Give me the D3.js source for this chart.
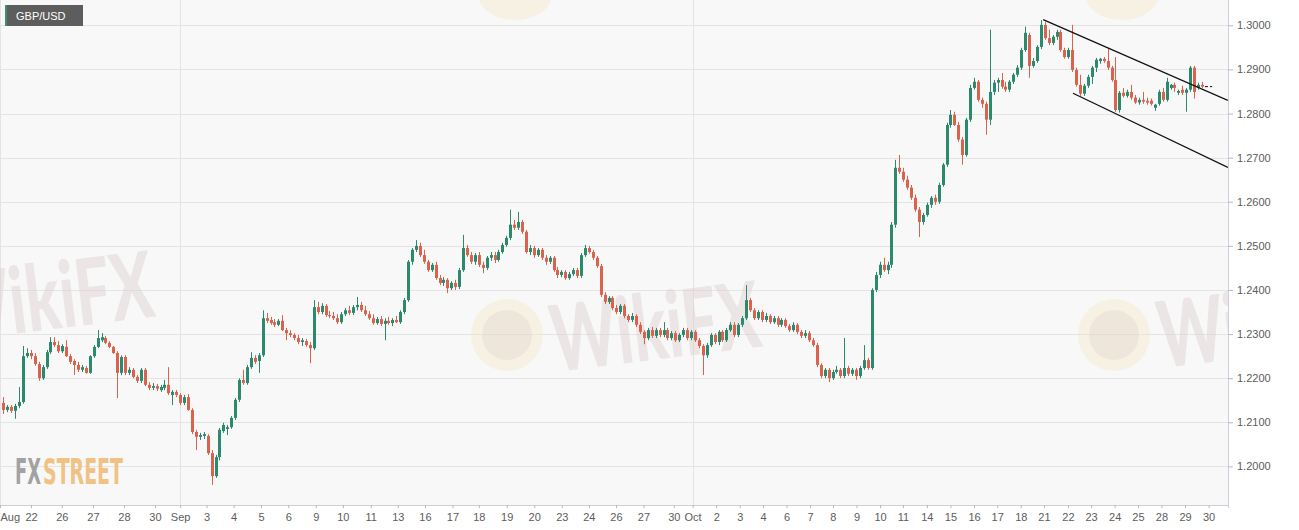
<!DOCTYPE html>
<html>
<head>
<meta charset="utf-8">
<style>
  body { margin: 0; background: #ffffff; }
  svg { display: block; font-family: "Liberation Sans", Arial, sans-serif; }
  .tick text { fill: #5c5c5c; font-size: 11px; }
  .tick line { stroke: #b8b8c4; }
</style>
</head>
<body>
<svg id="chart" width="1299" height="530"></svg>
<script src="https://cdnjs.cloudflare.com/ajax/libs/d3/7.8.5/d3.min.js"></script>
<script>
// GBP/USD 4h candles, Aug 21 - Oct 30
const symbol = "GBP/USD";
const priceTicks = [1.20, 1.21, 1.22, 1.23, 1.24, 1.25, 1.26, 1.27, 1.28, 1.29, 1.30];

// x tick labels and where they sit, in candle units
const dayLabels = ["Aug","22","26","27","28","30","Sep","3","4","5","6","9","10","11","13","16","17","18","19","20","23","24","26","27","30","Oct","2","3","4","6","7","8","9","10","11","14","15","16","17","18","21","22","23","24","25","28","29","30"];
const dayTickIdx = [-0.84,7.05,14.9,22.8,30.7,38.6,45.0,51.7,58.6,65.6,72.5,79.5,86.4,93.5,100.4,107.3,114.3,121.0,128.1,135.1,142.1,149.0,155.9,162.9,170.6,175.4,181.4,187.4,193.3,199.3,205.3,211.1,217.1,223.1,228.9,235.0,241.0,247.0,252.9,258.9,264.8,270.9,276.8,282.8,288.7,294.7,300.7,306.7];
const monthLabels = ["Aug","Sep","Oct"];

// [open, high, low, close]
const augCandles = [
[1.2144,1.2157,1.2119,1.2128],[1.2128,1.2139,1.2123,1.2135],[1.2135,1.2139,1.2121,1.2126],[1.2126,1.2142,1.2108,1.2137],
[1.2137,1.2180,1.2132,1.2146],[1.2146,1.2273,1.2142,1.2250],[1.2250,1.2268,1.2246,1.2257],[1.2257,1.2264,1.2243,1.2250],
[1.2250,1.2257,1.2228,1.2232],[1.2232,1.2237,1.2194,1.2200],[1.2200,1.2230,1.2196,1.2225],[1.2225,1.2264,1.2221,1.2259],
[1.2259,1.2293,1.2255,1.2282],[1.2282,1.2293,1.2271,1.2275],[1.2275,1.2284,1.2257,1.2261],[1.2261,1.2277,1.2257,1.2273],
[1.2271,1.2286,1.2248,1.2250],[1.2250,1.2255,1.2232,1.2237],[1.2239,1.2243,1.2207,1.2230],[1.2230,1.2237,1.2214,1.2219],
[1.2219,1.2230,1.2214,1.2225],[1.2223,1.2228,1.2210,1.2212],[1.2212,1.2252,1.2210,1.2250],[1.2250,1.2275,1.2246,1.2271],
[1.2271,1.2309,1.2268,1.2291],[1.2286,1.2302,1.2282,1.2293],[1.2291,1.2296,1.2277,1.2280],[1.2280,1.2284,1.2268,1.2271],
[1.2271,1.2273,1.2255,1.2257],[1.2257,1.2261,1.2155,1.2212],[1.2212,1.2252,1.2207,1.2248],[1.2248,1.2252,1.2207,1.2212],
[1.2212,1.2225,1.2207,1.2219],[1.2219,1.2223,1.2200,1.2203],[1.2203,1.2207,1.2189,1.2194],[1.2194,1.2223,1.2189,1.2219],
[1.2219,1.2223,1.2182,1.2185],[1.2185,1.2191,1.2173,1.2178],[1.2178,1.2189,1.2173,1.2182],[1.2182,1.2187,1.2171,1.2176],
[1.2173,1.2185,1.2169,1.2180],[1.2178,1.2196,1.2173,1.2185],[1.2185,1.2225,1.2162,1.2166],[1.2162,1.2173,1.2139,1.2169],
[1.2169,1.2173,1.2157,1.2162]
];
const sepCandles = [
[1.2162,1.2166,1.2139,1.2144],[1.2144,1.2162,1.2139,1.2157],[1.2157,1.2164,1.2126,1.2128],[1.2128,1.2132,1.2073,1.2078],
[1.2078,1.2083,1.2037,1.2067],[1.2067,1.2076,1.2060,1.2071],[1.2069,1.2078,1.2062,1.2073],[1.2069,1.2073,1.2026,1.2030],
[1.2030,1.2037,1.1958,1.1978],[1.1978,1.2026,1.1974,1.2021],[1.2021,1.2087,1.2014,1.2083],[1.2080,1.2099,1.2076,1.2094],
[1.2085,1.2094,1.2071,1.2089],[1.2089,1.2114,1.2085,1.2110],[1.2110,1.2155,1.2105,1.2151],[1.2151,1.2200,1.2146,1.2196],
[1.2196,1.2219,1.2185,1.2189],[1.2189,1.2230,1.2185,1.2225],[1.2225,1.2259,1.2221,1.2246],[1.2246,1.2252,1.2232,1.2237],
[1.2239,1.2257,1.2212,1.2252],[1.2252,1.2354,1.2248,1.2336],[1.2336,1.2348,1.2325,1.2330],[1.2332,1.2339,1.2321,1.2325],
[1.2327,1.2334,1.2316,1.2321],[1.2321,1.2334,1.2318,1.2330],[1.2330,1.2343,1.2307,1.2309],[1.2309,1.2314,1.2286,1.2302],
[1.2302,1.2309,1.2293,1.2298],[1.2298,1.2302,1.2286,1.2291],[1.2291,1.2298,1.2277,1.2282],[1.2282,1.2291,1.2273,1.2286],
[1.2284,1.2289,1.2271,1.2275],[1.2275,1.2282,1.2234,1.2268],[1.2268,1.2377,1.2264,1.2361],[1.2361,1.2373,1.2345,1.2350],
[1.2350,1.2370,1.2345,1.2364],[1.2364,1.2368,1.2339,1.2343],[1.2343,1.2352,1.2336,1.2341],[1.2341,1.2350,1.2332,1.2336],
[1.2336,1.2345,1.2323,1.2327],[1.2327,1.2350,1.2323,1.2345],[1.2345,1.2359,1.2341,1.2354],[1.2354,1.2364,1.2343,1.2348],
[1.2348,1.2366,1.2343,1.2361],[1.2361,1.2384,1.2354,1.2366],[1.2366,1.2373,1.2350,1.2354],[1.2354,1.2364,1.2341,1.2345],
[1.2345,1.2352,1.2332,1.2336],[1.2336,1.2345,1.2321,1.2325],[1.2325,1.2339,1.2321,1.2334],[1.2334,1.2341,1.2318,1.2323],
[1.2323,1.2336,1.2286,1.2330],[1.2330,1.2339,1.2321,1.2325],[1.2325,1.2336,1.2318,1.2332],[1.2332,1.2341,1.2325,1.2327],
[1.2327,1.2354,1.2323,1.2350],[1.2350,1.2382,1.2345,1.2377],[1.2377,1.2468,1.2373,1.2464],[1.2464,1.2495,1.2457,1.2491],
[1.2491,1.2513,1.2486,1.2500],[1.2500,1.2507,1.2475,1.2479],[1.2479,1.2491,1.2459,1.2464],[1.2464,1.2468,1.2441,1.2445],
[1.2445,1.2461,1.2441,1.2457],[1.2457,1.2464,1.2423,1.2427],[1.2427,1.2434,1.2411,1.2416],[1.2416,1.2429,1.2409,1.2423],
[1.2423,1.2427,1.2393,1.2404],[1.2404,1.2420,1.2400,1.2416],[1.2416,1.2423,1.2400,1.2407],[1.2407,1.2450,1.2402,1.2445],
[1.2445,1.2525,1.2441,1.2495],[1.2495,1.2502,1.2475,1.2479],[1.2479,1.2486,1.2459,1.2464],[1.2464,1.2484,1.2457,1.2479],
[1.2479,1.2486,1.2452,1.2457],[1.2457,1.2464,1.2438,1.2450],[1.2450,1.2477,1.2445,1.2473],[1.2473,1.2486,1.2466,1.2479],
[1.2479,1.2486,1.2461,1.2468],[1.2468,1.2491,1.2464,1.2486],[1.2486,1.2507,1.2482,1.2502],[1.2502,1.2523,1.2498,1.2518],
[1.2518,1.2582,1.2513,1.2548],[1.2548,1.2559,1.2536,1.2541],[1.2541,1.2577,1.2536,1.2554],[1.2554,1.2559,1.2527,1.2532],
[1.2532,1.2536,1.2482,1.2486],[1.2486,1.2502,1.2479,1.2495],[1.2495,1.2500,1.2473,1.2479],[1.2479,1.2495,1.2475,1.2491],
[1.2491,1.2495,1.2468,1.2473],[1.2473,1.2479,1.2457,1.2464],[1.2464,1.2477,1.2459,1.2473],[1.2473,1.2477,1.2441,1.2445],
[1.2445,1.2452,1.2427,1.2434],[1.2434,1.2445,1.2429,1.2441],[1.2441,1.2445,1.2423,1.2427],[1.2427,1.2441,1.2423,1.2436],
[1.2436,1.2450,1.2432,1.2445],[1.2445,1.2450,1.2427,1.2432],[1.2432,1.2484,1.2427,1.2479],[1.2479,1.2502,1.2475,1.2495],
[1.2495,1.2500,1.2482,1.2486],[1.2486,1.2491,1.2468,1.2473],[1.2473,1.2477,1.2450,1.2454],[1.2454,1.2459,1.2384,1.2389],
[1.2389,1.2395,1.2368,1.2373],[1.2373,1.2386,1.2368,1.2382],[1.2382,1.2386,1.2354,1.2359],[1.2359,1.2366,1.2345,1.2350],
[1.2350,1.2368,1.2345,1.2364],[1.2364,1.2368,1.2336,1.2341],[1.2341,1.2345,1.2327,1.2332],[1.2332,1.2348,1.2327,1.2341],
[1.2341,1.2345,1.2316,1.2321],[1.2321,1.2327,1.2300,1.2305],[1.2305,1.2309,1.2277,1.2291],[1.2291,1.2314,1.2286,1.2309],
[1.2309,1.2316,1.2291,1.2296],[1.2296,1.2314,1.2291,1.2309],[1.2309,1.2314,1.2293,1.2298],[1.2298,1.2327,1.2293,1.2309],
[1.2309,1.2314,1.2286,1.2291],[1.2291,1.2307,1.2286,1.2302],[1.2302,1.2307,1.2282,1.2286],[1.2286,1.2302,1.2282,1.2298],
[1.2298,1.2314,1.2293,1.2309],[1.2309,1.2314,1.2286,1.2291],[1.2291,1.2309,1.2286,1.2305]
];
const octCandles = [
[1.2305,1.2309,1.2282,1.2286],[1.2286,1.2291,1.2268,1.2273],[1.2273,1.2277,1.2207,1.2252],[1.2252,1.2280,1.2246,1.2275],
[1.2275,1.2302,1.2271,1.2298],[1.2298,1.2302,1.2277,1.2282],[1.2282,1.2309,1.2275,1.2305],[1.2305,1.2309,1.2282,1.2286],
[1.2286,1.2314,1.2282,1.2309],[1.2309,1.2327,1.2305,1.2321],[1.2321,1.2327,1.2293,1.2298],[1.2298,1.2325,1.2293,1.2321],
[1.2321,1.2341,1.2316,1.2336],[1.2336,1.2411,1.2332,1.2377],[1.2377,1.2382,1.2350,1.2354],[1.2354,1.2359,1.2332,1.2336],
[1.2336,1.2354,1.2332,1.2350],[1.2350,1.2354,1.2327,1.2332],[1.2332,1.2348,1.2327,1.2341],[1.2341,1.2345,1.2323,1.2327],
[1.2327,1.2341,1.2323,1.2336],[1.2336,1.2341,1.2316,1.2321],[1.2321,1.2336,1.2316,1.2332],[1.2332,1.2336,1.2314,1.2318],
[1.2318,1.2323,1.2305,1.2309],[1.2309,1.2327,1.2305,1.2321],[1.2321,1.2325,1.2300,1.2305],[1.2305,1.2309,1.2291,1.2296],
[1.2296,1.2309,1.2291,1.2302],[1.2302,1.2307,1.2282,1.2286],[1.2286,1.2291,1.2271,1.2275],[1.2275,1.2280,1.2225,1.2230],
[1.2230,1.2234,1.2200,1.2205],[1.2205,1.2223,1.2200,1.2219],[1.2219,1.2223,1.2191,1.2200],[1.2200,1.2219,1.2196,1.2214],
[1.2214,1.2228,1.2210,1.2219],[1.2219,1.2223,1.2200,1.2205],[1.2205,1.2291,1.2200,1.2223],[1.2223,1.2228,1.2205,1.2210],
[1.2210,1.2223,1.2205,1.2219],[1.2219,1.2223,1.2196,1.2205],[1.2205,1.2228,1.2200,1.2223],[1.2223,1.2275,1.2219,1.2241],
[1.2241,1.2246,1.2219,1.2223],[1.2223,1.2404,1.2219,1.2400],[1.2400,1.2441,1.2395,1.2434],[1.2434,1.2464,1.2427,1.2457],
[1.2457,1.2473,1.2441,1.2445],[1.2445,1.2464,1.2436,1.2457],[1.2457,1.2554,1.2450,1.2548],[1.2548,1.2695,1.2541,1.2677],
[1.2677,1.2706,1.2663,1.2668],[1.2668,1.2677,1.2645,1.2650],[1.2650,1.2659,1.2627,1.2632],[1.2632,1.2638,1.2604,1.2609],
[1.2609,1.2616,1.2577,1.2582],[1.2582,1.2588,1.2520,1.2554],[1.2554,1.2575,1.2548,1.2570],[1.2570,1.2598,1.2566,1.2593],
[1.2593,1.2613,1.2586,1.2609],[1.2609,1.2616,1.2593,1.2600],[1.2600,1.2643,1.2595,1.2638],[1.2638,1.2688,1.2634,1.2684],
[1.2684,1.2779,1.2679,1.2774],[1.2774,1.2808,1.2768,1.2797],[1.2797,1.2804,1.2772,1.2774],[1.2774,1.2781,1.2736,1.2741],
[1.2741,1.2747,1.2684,1.2706],[1.2706,1.2790,1.2702,1.2786],[1.2786,1.2865,1.2781,1.2858],[1.2858,1.2881,1.2854,1.2872],
[1.2872,1.2876,1.2827,1.2831],[1.2831,1.2836,1.2813,1.2822],[1.2822,1.2827,1.2752,1.2786],[1.2786,1.2990,1.2774,1.2849],
[1.2849,1.2876,1.2842,1.2870],[1.2870,1.2881,1.2849,1.2876],[1.2876,1.2892,1.2856,1.2861],[1.2861,1.2872,1.2849,1.2854],
[1.2854,1.2876,1.2849,1.2872],[1.2872,1.2892,1.2867,1.2888],[1.2888,1.2910,1.2883,1.2904],[1.2904,1.2949,1.2899,1.2944],
[1.2944,1.2997,1.2940,1.2983],[1.2978,1.2983,1.2881,1.2908],[1.2908,1.2926,1.2904,1.2919],[1.2919,1.2955,1.2915,1.2951],
[1.2951,1.3012,1.2946,1.3001],[1.3001,1.3008,1.2967,1.2971],[1.2971,1.2990,1.2955,1.2960],[1.2960,1.2978,1.2955,1.2974],
[1.2974,1.2990,1.2967,1.2985],[1.2985,1.2990,1.2940,1.2944],[1.2944,1.2949,1.2924,1.2928],[1.2928,1.2949,1.2924,1.2944],
[1.2944,1.3001,1.2894,1.2899],[1.2899,1.2904,1.2861,1.2865],[1.2865,1.2888,1.2840,1.2845],[1.2845,1.2867,1.2840,1.2863],
[1.2863,1.2888,1.2858,1.2883],[1.2883,1.2908,1.2867,1.2904],[1.2904,1.2926,1.2894,1.2922],[1.2919,1.2926,1.2913,1.2924],
[1.2924,1.2928,1.2915,1.2919],[1.2919,1.2949,1.2899,1.2904],[1.2904,1.2908,1.2872,1.2876],[1.2876,1.2928,1.2804,1.2808],
[1.2808,1.2851,1.2802,1.2847],[1.2847,1.2858,1.2836,1.2840],[1.2840,1.2854,1.2836,1.2849],[1.2849,1.2865,1.2831,1.2836],
[1.2836,1.2842,1.2822,1.2825],[1.2825,1.2836,1.2820,1.2831],[1.2831,1.2849,1.2822,1.2827],[1.2829,1.2836,1.2820,1.2825],
[1.2829,1.2834,1.2818,1.2822],[1.2813,1.2822,1.2806,1.2820],[1.2822,1.2854,1.2818,1.2849],[1.2849,1.2858,1.2827,1.2831],
[1.2831,1.2881,1.2827,1.2872],[1.2858,1.2867,1.2854,1.2865],[1.2865,1.2870,1.2849,1.2858],[1.2847,1.2854,1.2842,1.2851],
[1.2854,1.2863,1.2842,1.2847],[1.2847,1.2858,1.2804,1.2854],[1.2854,1.2908,1.2849,1.2904],[1.2904,1.2908,1.2834,1.2849],
[1.2858,1.2870,1.2854,1.2865],[1.2865,1.2872,1.2858,1.2861]
];

// descending channel drawn on the chart: [candle index, price]
const channelUpper = [[264.6, 1.3013], [311.6, 1.2830]];
const channelLower = [[272.2, 1.2846], [311.6, 1.2678]];

const candles = augCandles.concat(sepCandles, octCandles)
  .map((d, i) => ({ i: i, o: d[0], h: d[1], l: d[2], c: d[3] }));

const W = 1228, H = 505;
const green = "#2b8a6e", red = "#d9634d";

const svg = d3.select("#chart");

const x = d3.scaleLinear().domain([0, 305]).range([3.3, 1201.95]);
const y = d3.scaleLinear().domain([1.20, 1.30]).range([466.4, 25.3]);

// plot background
svg.append("rect").attr("x", 0).attr("y", 0).attr("width", W).attr("height", H)
  .attr("fill", "#f8f8f8");

svg.append("defs").append("clipPath").attr("id", "plot")
  .append("rect").attr("width", W).attr("height", H);

// grid
const grid = svg.append("g");
grid.selectAll(".hg").data(priceTicks).enter().append("line")
  .attr("x1", 0).attr("x2", W)
  .attr("y1", d => Math.round(y(d)) + 0.5).attr("y2", d => Math.round(y(d)) + 0.5)
  .attr("stroke", "#e4e4e4");
const monthIdx = dayTickIdx.filter((d, i) => monthLabels.includes(dayLabels[i]));
grid.selectAll(".vg").data(monthIdx).enter().append("line")
  .attr("x1", d => Math.round(x(d)) + 0.5).attr("x2", d => Math.round(x(d)) + 0.5)
  .attr("y1", 0).attr("y2", H)
  .attr("stroke", "#e4e4e4");

// watermarks
const wm = svg.append("g").attr("clip-path", "url(#plot)");
[[-100, 342], [507, 372], [1114, 368]].forEach(([cx, by]) => {
  wm.append("circle").attr("cx", cx).attr("cy", 335).attr("r", 36)
    .attr("fill", "#f4e6c6").attr("opacity", 0.4);
  wm.append("circle").attr("cx", cx).attr("cy", 335).attr("r", 25)
    .attr("fill", "#d8c8c6").attr("opacity", 0.28);
  wm.append("text").attr("x", cx + 48).attr("y", by)
    .attr("transform", `rotate(-7 ${cx + 48} ${by})`)
    .attr("font-family", "Lato, 'Open Sans', sans-serif").attr("font-weight", 900)
    .attr("font-size", 92).attr("fill", "#dcd0d0").attr("opacity", 0.45)
    .attr("textLength", 210).attr("lengthAdjust", "spacingAndGlyphs")
    .text("WikiFX");
});
[515, 1122].forEach(cx => {
  wm.append("ellipse").attr("cx", cx).attr("cy", -4).attr("rx", 36).attr("ry", 24)
    .attr("fill", "#f4e6c6").attr("opacity", 0.4);
});

// FXStreet logo
const logoFont = "'DejaVu Sans Condensed', 'DejaVu Sans', sans-serif";
svg.append("text").attr("x", 15).attr("y", 484)
  .attr("font-family", logoFont).attr("font-weight", 700).attr("font-size", 35)
  .attr("fill", "#a2a2a2")
  .attr("textLength", 26).attr("lengthAdjust", "spacingAndGlyphs").text("FX");
svg.append("text").attr("x", 43).attr("y", 484)
  .attr("font-family", logoFont).attr("font-weight", 700).attr("font-size", 35)
  .attr("fill", "#f0c283")
  .attr("textLength", 80).attr("lengthAdjust", "spacingAndGlyphs").text("STREET");

// candles
const plot = svg.append("g").attr("clip-path", "url(#plot)");
const bw = 3;
const c = plot.selectAll(".candle").data(candles).enter().append("g");
c.append("line")
  .attr("x1", d => Math.round(x(d.i)) + 0.5).attr("x2", d => Math.round(x(d.i)) + 0.5)
  .attr("y1", d => y(d.h)).attr("y2", d => y(d.l))
  .attr("stroke", d => d.c >= d.o ? green : red).attr("stroke-width", 1);
c.append("rect")
  .attr("x", d => Math.round(x(d.i)) - 1)
  .attr("width", bw)
  .attr("y", d => y(Math.max(d.o, d.c)))
  .attr("height", d => Math.max(1, Math.abs(y(d.o) - y(d.c))))
  .attr("fill", d => d.c >= d.o ? green : red);

// channel
const line = d3.line().x(d => x(d[0])).y(d => y(d[1]));
[channelUpper, channelLower].forEach(ch => {
  plot.append("path").attr("d", line(ch))
    .attr("fill", "none").attr("stroke", "#111").attr("stroke-width", 1.3);
});

// last price marker
const last = candles[candles.length - 1];
plot.append("line")
  .attr("x1", x(last.i) + 3).attr("x2", x(last.i + 2.6))
  .attr("y1", y(last.c)).attr("y2", y(last.c))
  .attr("stroke", "#111").attr("stroke-dasharray", "3,2");

// axes
svg.append("line").attr("x1", W + 0.5).attr("x2", W + 0.5).attr("y1", 0).attr("y2", H + 3)
  .attr("stroke", "#cfcfdc");
svg.append("line").attr("x1", 0).attr("x2", W).attr("y1", H + 0.5).attr("y2", H + 0.5)
  .attr("stroke", "#cfcfdc");

const yAxis = d3.axisRight(y).tickValues(priceTicks).tickFormat(d3.format(".4f"))
  .tickSize(5).tickPadding(4);
svg.append("g").attr("transform", `translate(${W},0)`).call(yAxis)
  .call(g => g.select(".domain").remove());

const xAxis = d3.axisBottom(x).tickValues(dayTickIdx).tickFormat((d, i) => dayLabels[i])
  .tickSize(3).tickPadding(5);
svg.append("g").attr("transform", `translate(0,${H})`).call(xAxis)
  .call(g => g.select(".domain").remove())
  .call(g => g.selectAll(".tick text").filter((d, i) => i === 0).attr("text-anchor", "start").attr("x", 0));

// symbol badge
const badge = svg.append("g");
badge.append("rect").attr("x", 5).attr("y", 5).attr("width", 78).attr("height", 21).attr("fill", "#5d5d5d");
badge.append("rect").attr("x", 5).attr("y", 5).attr("width", 2).attr("height", 21).attr("fill", "#3a8f73");
badge.append("text").attr("x", 16).attr("y", 19.5).attr("fill", "#ffffff")
  .attr("font-size", 11).text(symbol);
</script>
</body>
</html>
